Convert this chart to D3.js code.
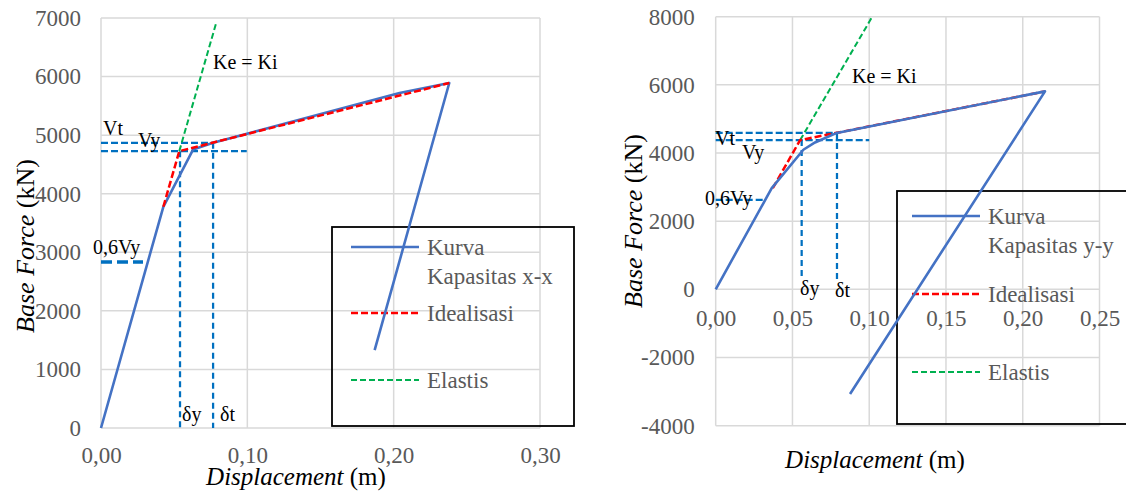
<!DOCTYPE html>
<html><head><meta charset="utf-8">
<script src="https://cdn.jsdelivr.net/npm/d3@7"></script>
</head><body style="margin:0;background:#fff">
<svg id="c" width="1126" height="493"></svg>
<script>
// ---------- data: left chart (x-x) ----------
const capXL = [0, 0.0426, 0.063, 0.0766, 0.204, 0.238, 0.187];
const capYL = [0, 3777, 4756, 4870, 5720, 5890, 1330];
const idealXL = [0.0426, 0.0535, 0.238];
const idealYL = [3777, 4727, 5890];
const elasXL = [0.0535, 0.079];
const elasYL = [4727, 6940];
const markL = {Vt: 4870, Vy: 4727, dy: 0.054, dt: 0.0766, vyEnd: 0.0996, sixEnd: 0.0287, bottom: 0};
const xTicksL = [0, 0.1, 0.2, 0.3];
const yTicksL = [0, 1000, 2000, 3000, 4000, 5000, 6000, 7000];

// ---------- data: right chart (y-y) ----------
const capXR = [0, 0.0365, 0.0571, 0.0647, 0.0789, 0.2145, 0.0875];
const capYR = [0, 2971, 4096, 4310, 4590, 5809, -3070];
const idealXR = [0.0372, 0.055, 0.2145];
const idealYR = [2971, 4380, 5809];
const elasXR = [0.055, 0.102];
const elasYR = [4380, 8000];
const markR = {Vt: 4590, Vy: 4380, dy: 0.056, dt: 0.079, vyEnd: 0.10, sixEnd: 0.032, bottom: 280};
const xTicksR = [0, 0.05, 0.10, 0.15, 0.20, 0.25];
const yTicksR = [-4000, -2000, 0, 2000, 4000, 6000, 8000];

const FONT = "Liberation Serif";
const BLUE = "#4472C4", RED = "#FF0000", GREEN = "#00B050", DOT = "#0070C0", GRID = "#D9D9D9", TICK = "#595959";
const svg = d3.select("#c");
const fmtX = d => d3.format(".2f")(d).replace(".", ",");

function tx(sel, size, fill) {
  return sel.style("font-family", FONT).style("font-size", size + "px").attr("fill", fill);
}

function chart(o) {
  const x = d3.scaleLinear().domain(o.xDom).range([o.x0, o.x1]);
  const y = d3.scaleLinear().domain(o.yDom).range([o.y0, o.y1]);
  const g = svg.append("g");

  // gridlines
  g.append("g").selectAll("line").data(o.xTicks).join("line")
    .attr("x1", d => x(d)).attr("x2", d => x(d))
    .attr("y1", y(o.yDom[0])).attr("y2", y(o.yDom[1]))
    .attr("stroke", GRID).attr("stroke-width", 1.5);
  g.append("g").selectAll("line").data(o.yTicks).join("line")
    .attr("y1", d => y(d)).attr("y2", d => y(d))
    .attr("x1", x(o.xDom[0])).attr("x2", x(o.xDom[1]))
    .attr("stroke", GRID).attr("stroke-width", 1.5);

  // y axis labels
  const ya = g.append("g").attr("transform", `translate(${o.x0},0)`)
    .call(d3.axisLeft(y).tickValues(o.yTicks).tickSize(0).tickPadding(o.yPad).tickFormat(d => String(d)));
  ya.attr("font-family", FONT).attr("font-size", 23);
  ya.select(".domain").remove();
  tx(ya.selectAll("text"), 23, TICK);

  // x axis labels
  const xa = g.append("g").attr("transform", `translate(0,${y(o.xAxisAt)})`)
    .call(d3.axisBottom(x).tickValues(o.xTicks).tickSize(0).tickFormat(fmtX));
  xa.attr("font-family", FONT).attr("font-size", 23);
  xa.select(".domain").remove();
  tx(xa.selectAll("text"), 23, TICK).attr("y", o.xLabOff).attr("dy", "0.35em");

  // axis titles
  const yt = tx(g.append("text"), 26, "#000").attr("text-anchor", "middle")
    .attr("transform", `translate(${o.yTitle[0]},${o.yTitle[1]}) rotate(-90)`)
    .attr("dy", "0.35em");
  yt.append("tspan").style("font-style", "italic").text("Base Force");
  yt.append("tspan").text(" (kN)");
  const xt = tx(g.append("text"), 25, "#000").attr("text-anchor", "middle")
    .attr("x", o.xTitle[0]).attr("y", o.xTitle[1]);
  xt.append("tspan").style("font-style", "italic").text("Displacement");
  xt.append("tspan").text(" (m)");

  // legend box
  const L = o.legend;
  g.append("rect").attr("x", L.x).attr("y", L.y).attr("width", L.w).attr("height", L.h)
    .attr("fill", "none").attr("stroke", "#000").attr("stroke-width", 1.8);
  const ls = (yy, col, dash, w) => g.append("line").attr("x1", L.lx0).attr("x2", L.lx1)
    .attr("y1", yy).attr("y2", yy).attr("stroke", col).attr("stroke-width", w).attr("stroke-dasharray", dash);
  const lt = (yy, s) => tx(g.append("text"), 23, TICK).attr("x", L.tx).attr("y", yy).attr("dy", "0.33em").text(s);
  ls(L.rows[0], BLUE, null, 2.5); lt(L.rows[0], "Kurva"); lt(L.rows[1], o.curveName);
  ls(L.rows[2], RED, "7,3", 2.5); lt(L.rows[2], "Idealisasi");
  ls(L.rows[3], GREEN, "6,3", 2); lt(L.rows[3], "Elastis");

  // marker lines (blue dotted)
  const m = o.mark;
  const dl = (x1, y1, x2, y2, w, dash) => g.append("line")
    .attr("x1", x(x1)).attr("y1", y(y1)).attr("x2", x(x2)).attr("y2", y(y2))
    .attr("stroke", DOT).attr("stroke-width", w).attr("stroke-dasharray", dash);
  dl(0, m.Vt, m.dt, m.Vt, 2.25, "7,3");
  dl(0, m.Vy, m.vyEnd, m.Vy, 2.25, "7,3");
  dl(0, m.Vy * 0.6, m.sixEnd, m.Vy * 0.6, o.sixW, o.sixDash);
  dl(m.dy, m.Vy, m.dy, m.bottom, 2.25, "6,4");
  dl(m.dt, m.Vt, m.dt, m.bottom, 2.25, "6,4");

  // series
  const line = d3.line().x(d => x(d[0])).y(d => y(d[1]));
  const drawCap = () => g.append("path").datum(d3.zip(o.capX, o.capY)).attr("d", line)
    .attr("fill", "none").attr("stroke", BLUE).attr("stroke-width", 2.6).attr("stroke-linejoin", "round");
  const drawIdeal = () => g.append("path").datum(d3.zip(o.idealX, o.idealY)).attr("d", line)
    .attr("fill", "none").attr("stroke", RED).attr("stroke-width", 2.5).attr("stroke-dasharray", "7,3");
  g.append("path").datum(d3.zip(o.elasX, o.elasY)).attr("d", line)
    .attr("fill", "none").attr("stroke", GREEN).attr("stroke-width", 2).attr("stroke-dasharray", "6,3");
  if (o.redOnTop) { drawCap(); drawIdeal(); } else { drawIdeal(); drawCap(); }

  // annotations
  o.notes.forEach(n => tx(g.append("text"), 20, "#000").attr("x", n[1]).attr("y", n[2]).attr("dy", "0.33em").text(n[0]));
}

chart({
  xDom: [0, 0.3], yDom: [0, 7000], x0: 101, x1: 540, y0: 428, y1: 18,
  xTicks: xTicksL, yTicks: yTicksL, xAxisAt: 0, xLabOff: 27, yPad: 20,
  yTitle: [25, 246], xTitle: [296, 485],
  capX: capXL, capY: capYL, idealX: idealXL, idealY: idealYL, elasX: elasXL, elasY: elasYL,
  mark: markL, sixW: 3.5, sixDash: "11,5", redOnTop: true, curveName: "Kapasitas x-x",
  legend: {x: 332, y: 227, w: 242, h: 199, lx0: 351, lx1: 419, tx: 427, rows: [247, 276, 313, 380]},
  notes: [["Ke = Ki", 213, 62], ["Vt", 103, 128], ["Vy", 138, 140], ["0,6Vy", 93, 247], ["δy", 182, 414], ["δt", 220, 414]]
});

chart({
  xDom: [0, 0.25], yDom: [-4000, 8000], x0: 715.7, x1: 1099.5, y0: 425.7, y1: 16.7,
  xTicks: xTicksR, yTicks: yTicksR, xAxisAt: 0, xLabOff: 28.5, yPad: 21,
  yTitle: [633, 221], xTitle: [875, 468],
  capX: capXR, capY: capYR, idealX: idealXR, idealY: idealYR, elasX: elasXR, elasY: elasYR,
  mark: markR, sixW: 2.25, sixDash: "7,3", redOnTop: false, curveName: "Kapasitas y-y",
  legend: {x: 897, y: 191, w: 250, h: 233, lx0: 912, lx1: 980, tx: 988, rows: [216, 245, 294, 372]},
  notes: [["Ke = Ki", 852, 76], ["Vt", 715, 138], ["Vy", 742, 152], ["0,6Vy", 705, 198], ["δy", 800, 288], ["δt", 835, 290]]
});
</script>
</body></html>
